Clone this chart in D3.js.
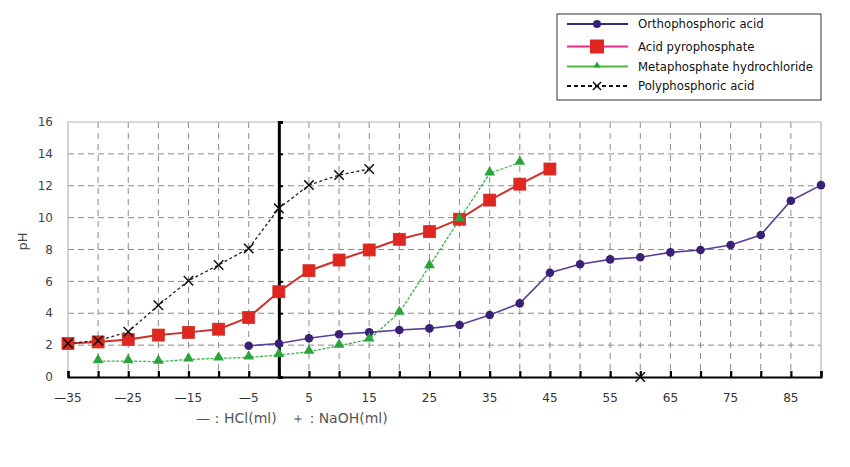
<!DOCTYPE html>
<html>
<head>
<meta charset="utf-8">
<script src="https://cdnjs.cloudflare.com/ajax/libs/d3/7.8.5/d3.min.js"></script>
<style>
  body { margin: 0; background: #fff; }
  text { font-family: "DejaVu Sans", sans-serif; }
</style>
</head>
<body>
<svg id="chart" width="850" height="467"></svg>
<script>
// titration curves, x in ml (negative = HCl, positive = NaOH)
const orthoX = [-5, 0, 5, 10, 15, 20, 25, 30, 35, 40, 45, 50, 55, 60, 65, 70, 75, 80, 85, 90];
const orthoY = [1.96, 2.1, 2.43, 2.68, 2.8, 2.95, 3.05, 3.26, 3.89, 4.62, 6.54, 7.07, 7.38, 7.51, 7.82, 7.97, 8.28, 8.91, 11.06, 12.04];

const pyroX = [-35, -30, -25, -20, -15, -10, -5, 0, 5, 10, 15, 20, 25, 30, 35, 40, 45];
const pyroY = [2.1, 2.2, 2.36, 2.63, 2.8, 3.0, 3.74, 5.35, 6.67, 7.34, 7.97, 8.64, 9.12, 9.9, 11.1, 12.1, 13.05];

const metaX = [-30, -25, -20, -15, -10, -5, 0, 5, 10, 15, 20, 25, 30, 35, 40];
const metaY = [1.0, 1.0, 0.96, 1.1, 1.17, 1.23, 1.38, 1.59, 1.96, 2.36, 4.03, 6.96, 9.9, 12.78, 13.45];

const polyX = [-35, -30, -25, -20, -15, -10, -5, 0, 5, 10, 15];
const polyY = [2.11, 2.28, 2.84, 4.5, 6.04, 7.03, 8.07, 10.58, 12.04, 12.67, 13.05];
// lone marker sitting on the x axis
const polyStrayX = [60];
const polyStrayY = [0];

const xGridValues = [-35, -30, -25, -20, -15, -10, -5, 0, 5, 10, 15, 20, 25, 30, 35, 40, 45, 50, 55, 60, 65, 70, 75, 80, 85, 90];
const xLabelValues = [-35, -25, -15, -5, 5, 15, 25, 35, 45, 55, 65, 75, 85];
const yTickValues = [0, 2, 4, 6, 8, 10, 12, 14, 16];

const legendNames = ['Orthophosphoric acid', 'Acid pyrophosphate', 'Metaphosphate hydrochloride', 'Polyphosphoric acid'];

const svg = d3.select('#chart');
const margin = { top: 122, right: 29, bottom: 90, left: 68 };
const width = +svg.attr('width') - margin.left - margin.right;
const height = +svg.attr('height') - margin.top - margin.bottom;

const g = svg.append('g').attr('transform', `translate(${margin.left},${margin.top})`);

const x = d3.scaleLinear().domain([-35, 90]).range([0, width]);
const y = d3.scaleLinear().domain([0, 16]).range([height, 0]);

// dashed grid
g.append('g')
  .selectAll('line')
  .data(yTickValues.filter(v => v > 0 && v < 16))
  .enter().append('line')
  .attr('x1', 0).attr('x2', width)
  .attr('y1', d => y(d)).attr('y2', d => y(d))
  .attr('stroke', '#8a8a8a')
  .attr('stroke-width', 1)
  .attr('stroke-dasharray', '6,4');

g.append('g')
  .selectAll('line')
  .data(xGridValues.filter(v => v > -35 && v < 90 && v !== 0))
  .enter().append('line')
  .attr('x1', d => x(d)).attr('x2', d => x(d))
  .attr('y1', 0).attr('y2', height)
  .attr('stroke', '#8a8a8a')
  .attr('stroke-width', 1)
  .attr('stroke-dasharray', '6,5');

// light frame on top / left / right
g.append('path')
  .attr('d', `M0,${height}V0H${width}V${height}`)
  .attr('fill', 'none')
  .attr('stroke', '#b5b5b5')
  .attr('stroke-width', 1.2);

// y labels
g.append('g')
  .selectAll('text')
  .data(yTickValues)
  .enter().append('text')
  .attr('x', -15)
  .attr('y', d => y(d))
  .attr('dy', '0.35em')
  .attr('text-anchor', 'end')
  .attr('font-size', 12)
  .attr('fill', '#444')
  .text(d => d);

g.append('text')
  .attr('transform', `translate(-46,${height / 2 - 8}) rotate(-90)`)
  .attr('text-anchor', 'middle')
  .attr('dy', '0.35em')
  .attr('font-size', 13)
  .attr('fill', '#444')
  .text('pH');

// bottom axis: thick line with ticks pointing up
const xAxis = d3.axisTop(x).tickValues(xGridValues).tickSize(6).tickFormat('');
const xa = g.append('g')
  .attr('transform', `translate(0,${height})`)
  .call(xAxis);
xa.select('.domain').attr('stroke', '#000').attr('stroke-width', 2.2);
xa.selectAll('.tick line').attr('stroke', '#000').attr('stroke-width', 2.2);

g.append('g')
  .selectAll('text')
  .data(xLabelValues)
  .enter().append('text')
  .attr('x', d => x(d))
  .attr('y', height + 21)
  .attr('dy', '0.35em')
  .attr('text-anchor', 'middle')
  .attr('font-size', 12)
  .attr('fill', '#333')
  .text(d => (d < 0 ? '\u2014' + Math.abs(d) : d));

// the zero line acts as the pH axis
const yAxis = d3.axisRight(y).tickValues(yTickValues).tickSize(4).tickFormat('');
const ya = g.append('g')
  .attr('transform', `translate(${x(0)},0)`)
  .call(yAxis);
ya.select('.domain').attr('stroke', '#000').attr('stroke-width', 3);
ya.selectAll('.tick line').attr('stroke', '#000').attr('stroke-width', 2);

svg.append('text')
  .attr('x', 196)
  .attr('y', 418)
  .attr('dy', '0.35em')
  .attr('font-size', 14)
  .attr('fill', '#555')
  .text('\u2014\uFF1AHCl(ml)\u3000\uFF0B\uFF1ANaOH(ml)');

const line = d3.line()
  .x(d => x(d[0]))
  .y(d => y(d[1]));

const zip = (xs, ys) => xs.map((v, i) => [v, ys[i]]);

const ortho = zip(orthoX, orthoY);
const pyro = zip(pyroX, pyroY);
const meta = zip(metaX, metaY);
const poly = zip(polyX, polyY);
const polyStray = zip(polyStrayX, polyStrayY);

const purple = '#3b2175';
const red = '#e0261f';
const green = '#2aa43a';

// lines
g.append('path').datum(ortho).attr('d', line)
  .attr('fill', 'none').attr('stroke', '#5a3f96').attr('stroke-width', 1.6);
g.append('path').datum(pyro).attr('d', line)
  .attr('fill', 'none').attr('stroke', '#d0302a').attr('stroke-width', 2);
g.append('path').datum(meta).attr('d', line)
  .attr('fill', 'none').attr('stroke', '#3cb44a').attr('stroke-width', 1.3)
  .attr('stroke-dasharray', '3,1.5');
g.append('path').datum(poly).attr('d', line)
  .attr('fill', 'none').attr('stroke', '#222').attr('stroke-width', 1.3)
  .attr('stroke-dasharray', '3,2.5');

// markers
g.selectAll('.ortho')
  .data(ortho)
  .enter().append('circle')
  .attr('class', 'ortho')
  .attr('cx', d => x(d[0])).attr('cy', d => y(d[1]))
  .attr('r', 4.3)
  .attr('fill', purple);

g.selectAll('.pyro')
  .data(pyro)
  .enter().append('rect')
  .attr('class', 'pyro')
  .attr('x', d => x(d[0]) - 6).attr('y', d => y(d[1]) - 6)
  .attr('width', 12).attr('height', 12)
  .attr('fill', red)
  .attr('stroke', '#c8322a').attr('stroke-width', 0.8);

const tri = d3.symbol().type(d3.symbolTriangle).size(50);
g.selectAll('.meta')
  .data(meta)
  .enter().append('path')
  .attr('class', 'meta')
  .attr('transform', d => `translate(${x(d[0])},${y(d[1]) - 1})`)
  .attr('d', tri)
  .attr('fill', green);

const cross = d3.symbol().type(d3.symbolX).size(60);
g.selectAll('.poly')
  .data(poly.concat(polyStray))
  .enter().append('path')
  .attr('class', 'poly')
  .attr('transform', d => `translate(${x(d[0])},${y(d[1])})`)
  .attr('d', cross)
  .attr('fill', 'none')
  .attr('stroke', '#111')
  .attr('stroke-width', 1.5);

// legend
const lg = svg.append('g').attr('transform', 'translate(557,14)');
lg.append('rect')
  .attr('width', 264).attr('height', 86)
  .attr('fill', '#fff').attr('stroke', '#333').attr('stroke-width', 1);

const rows = lg.selectAll('.row')
  .data(legendNames)
  .enter().append('g')
  .attr('class', 'row')
  .attr('transform', (d, i) => `translate(0,${[10, 32.5, 52.5, 72][i]})`);

rows.append('text')
  .attr('x', 81)
  .attr('dy', '0.35em')
  .attr('font-size', 11.7)
  .attr('fill', '#111')
  .text(d => d);

const legendLine = (row, color, width, dash) => row.append('line')
  .attr('x1', 10).attr('x2', 71)
  .attr('stroke', color).attr('stroke-width', width)
  .attr('stroke-dasharray', dash);

const r0 = rows.filter((d, i) => i === 0);
legendLine(r0, '#3b2a7a', 2.2, null);
r0.append('circle').attr('cx', 40).attr('r', 4).attr('fill', purple);

const r1 = rows.filter((d, i) => i === 1);
legendLine(r1, '#ec2a8a', 2.2, null);
r1.append('rect').attr('x', 33).attr('y', -7).attr('width', 14).attr('height', 14).attr('fill', red);

const r2 = rows.filter((d, i) => i === 2);
legendLine(r2, '#4cbb3c', 2.2, null);
r2.append('path').attr('transform', 'translate(40,-1)')
  .attr('d', d3.symbol().type(d3.symbolTriangle).size(22)).attr('fill', green);

const r3 = rows.filter((d, i) => i === 3);
legendLine(r3, '#111', 2.2, '4,3');
r3.append('path').attr('transform', 'translate(40,0)')
  .attr('d', d3.symbol().type(d3.symbolX).size(45))
  .attr('fill', '#fff').attr('stroke', '#111').attr('stroke-width', 1.5);
</script>
</body>
</html>
